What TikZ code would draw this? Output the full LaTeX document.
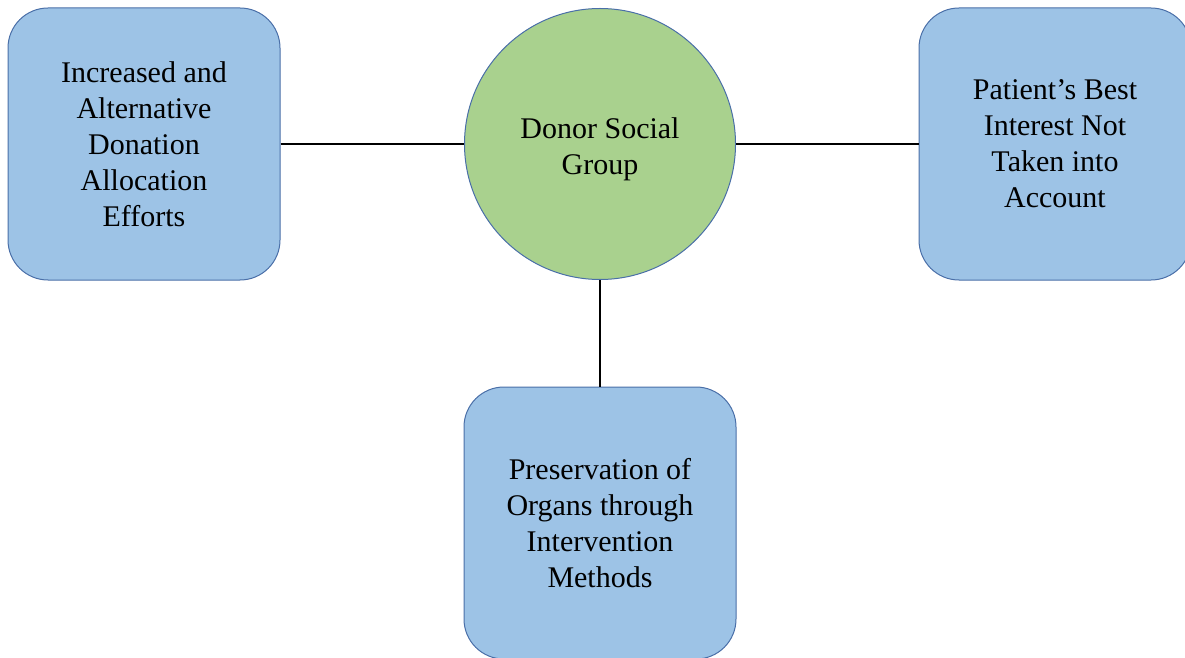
\documentclass[tikz,border=0pt]{standalone}
\usepackage{fontspec}
\setmainfont{Liberation Serif}
\definecolor{boxfill}{HTML}{9DC3E6}
\definecolor{circfill}{HTML}{A9D18E}
\definecolor{edge}{HTML}{4A6FA8}
\begin{document}
\begin{tikzpicture}[x=1pt,y=1pt,
  txt/.style={font=\fontsize{30}{36}\selectfont, align=center, text=black},
  rbox/.style={txt, draw=edge, line width=1pt, fill=boxfill, rounded corners=40pt,
    minimum width=272pt, minimum height=272pt, inner sep=0pt},
  hub/.style={circle, draw=edge, line width=1pt, fill=circfill,
    minimum size=271pt, inner sep=0pt},
  link/.style={draw=black, line width=2pt}]
\useasboundingbox (0,0) rectangle (1185,657);
\node[rbox] (left) at (144,513) {Increased and\\Alternative\\Donation\\Allocation\\Efforts};
\node[hub] (hub) at (600,513) {};
\node[txt] (hubtext) at ([yshift=-5pt]hub.center) {Donor Social\\Group};
\node[rbox] (right) at (1055,513) {Patient’s Best\\Interest Not\\Taken into\\Account};
\node[rbox] (bottom) at (600,134) {Preservation of\\Organs through\\Intervention\\Methods};
\draw[link] (left.east) -- (hub.west);
\draw[link] (hub.east) -- (right.west);
\draw[link] (hub.south) -- (bottom.north);
\end{tikzpicture}
\end{document}
